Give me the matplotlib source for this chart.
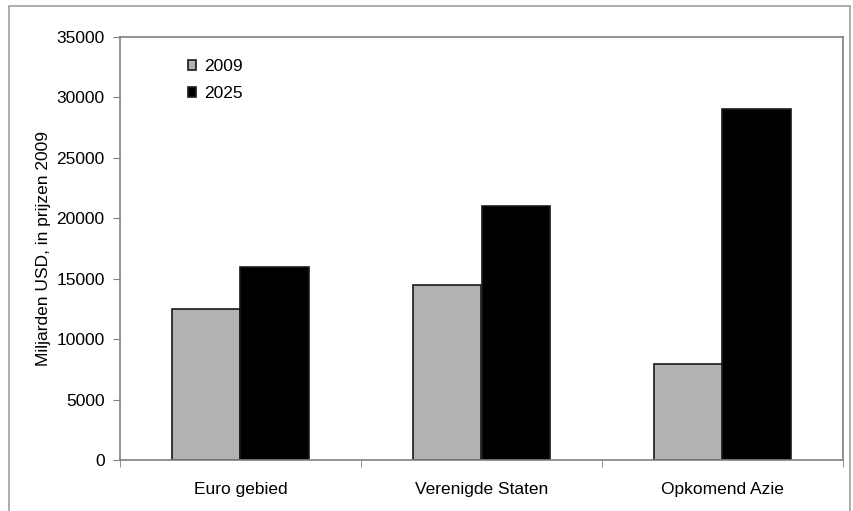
import matplotlib
matplotlib.use("Agg")
import matplotlib.pyplot as plt
from matplotlib.patches import Rectangle
import numpy as np

categories = ["Euro gebied", "Verenigde Staten", "Opkomend Azie"]
values_2009 = [12500, 14500, 7950]
values_2025 = [16000, 21000, 29050]
series_labels = ["2009", "2025"]
yticks = [0, 5000, 10000, 15000, 20000, 25000, 30000, 35000]

plt.rcParams['font.family'] = ['Liberation Sans', 'DejaVu Sans']

fig = plt.figure(figsize=(8.54, 5.11), dpi=100)
fig.patches.append(Rectangle((9/854, -0.01), (850-9)/854, 1 - 6/511 + 0.01,
                             transform=fig.transFigure, fill=False,
                             edgecolor='#a0a0a0', linewidth=1.2))
ax = fig.add_axes([120/854, 51/511, 723/854, 423/511])

x = np.arange(len(categories))
w = 0.286
ax.bar(x - w/2, values_2009, w, color='#b2b2b2', edgecolor='#1a1a1a', linewidth=1.2, label=series_labels[0])
ax.bar(x + w/2, values_2025, w, color='black', edgecolor='#1a1a1a', linewidth=1.2, label=series_labels[1])

ax.set_xlim(-0.5, 2.5)
ax.set_ylim(0, 35000)
ax.set_yticks(yticks)
ax.set_yticklabels([str(v) for v in yticks], fontsize=12.5)
ax.set_xticks(x)
ax.set_xticklabels(categories, fontsize=12.5)
ax.set_xticks([-0.5, 0.5, 1.5, 2.5], minor=True)
ax.tick_params(axis='x', which='major', length=0, pad=16)
ax.tick_params(axis='x', which='minor', length=5, direction='out', color='#808080')
ax.tick_params(axis='y', length=5, direction='out', color='#808080', pad=6)
for s in ax.spines.values():
    s.set_color('#808080')
    s.set_linewidth(1.2)

ax.set_ylabel("Miljarden USD, in prijzen 2009", fontsize=12.5, labelpad=4)

leg = ax.legend(loc='upper left', bbox_to_anchor=(0.072, 0.985), frameon=False,
                fontsize=12.5, handlelength=0.5, handleheight=0.5,
                handletextpad=0.45, labelspacing=0.7)

fig.savefig("out.png", dpi=100)
